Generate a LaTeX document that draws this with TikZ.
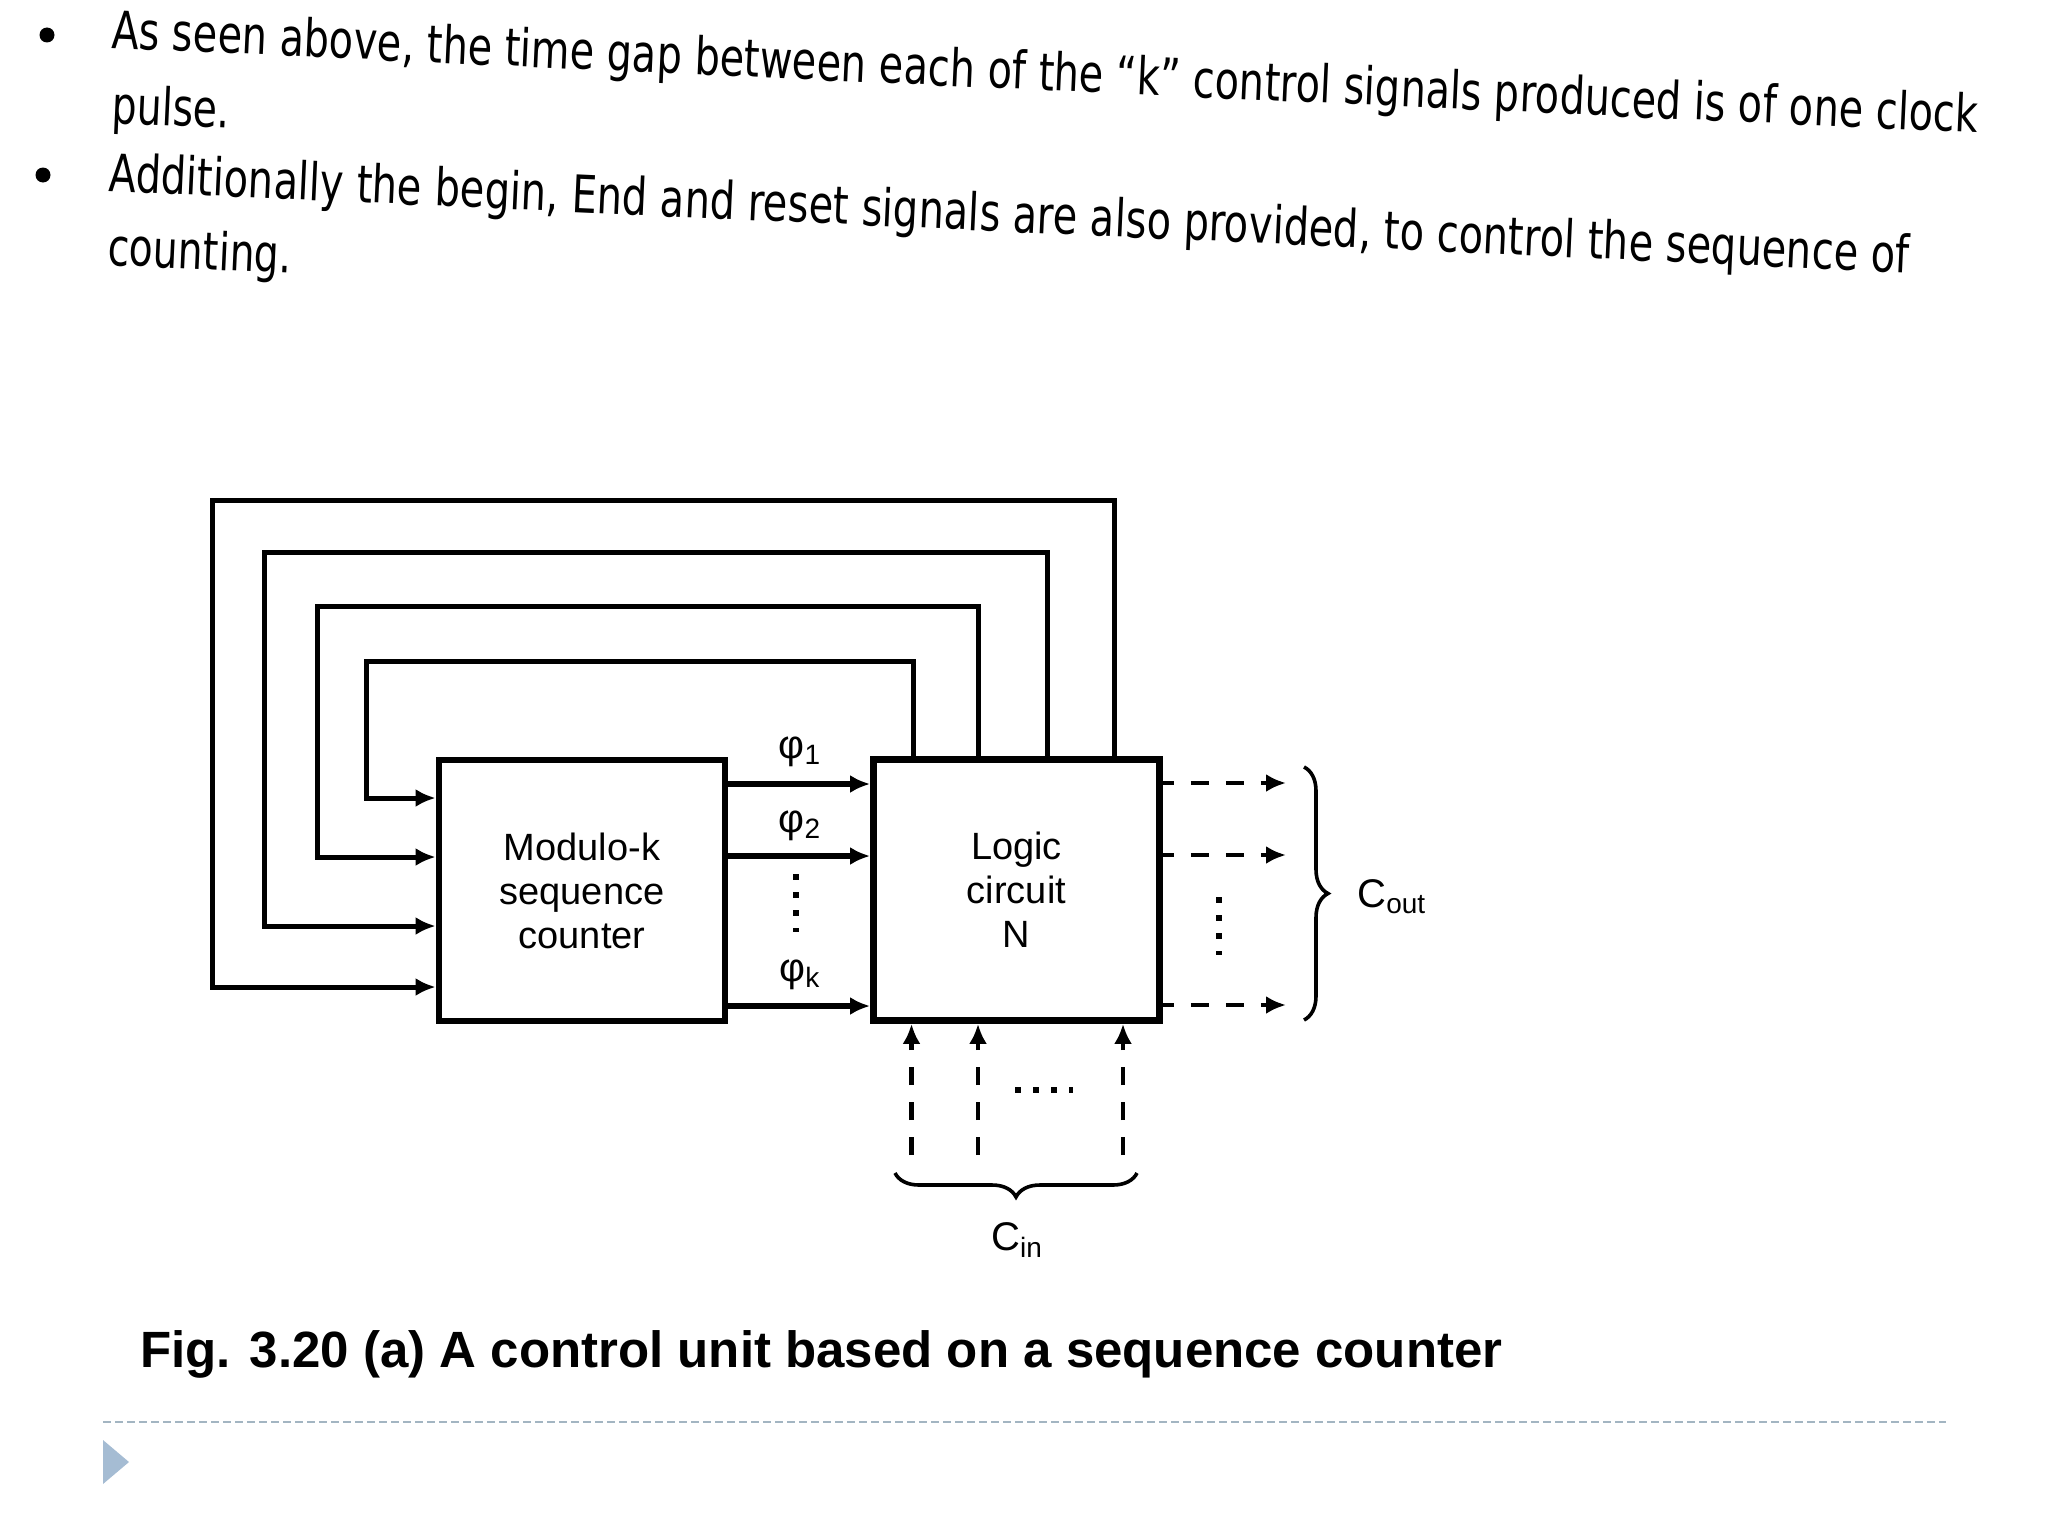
\documentclass[tikz,border=0pt]{standalone}
\usepackage{fontspec}
\usepackage{xcolor}
\usepackage{graphicx}
\usepackage{tikz}
\usetikzlibrary{arrows.meta,decorations.pathreplacing}
\setmainfont{Liberation Sans}
\newfontfamily\slidefont{DejaVu Sans}
\definecolor{slideblue}{HTML}{A5BCD3}
\definecolor{slidegrey}{HTML}{A3B5C2}

\begin{document}
\begin{tikzpicture}[x=.5pt,y=-.5pt]
	\tikzstyle{block} = [draw, line width=3.4pt, minimum width=143pt, minimum height=130.5pt, inner sep=0pt, align=center, font=\fontsize{19}{22}\selectfont]
	\tikzstyle{slideline} = [anchor=base west, rotate=-2.6, inner sep=0pt, font=\slidefont\fontsize{26}{30}\selectfont]
	\tikzstyle{signal} = [inner sep=0pt, font=\fontsize{20}{22}\selectfont]
	\tikzstyle{bullet} = [circle, fill, inner sep=0pt, minimum size=7.5pt]
	\tikzset{edge/.style = {line width=2.5pt, -{Latex[length=10pt,width=9pt]}}}
	\tikzset{wire/.style = {edge, line width=2.9pt}}
	\tikzset{dashedge/.style = {edge, line width=2.4pt, dash pattern=on 9pt off 8.5pt}}
	\tikzset{dots/.style = {line width=2.6pt, dash pattern=on 3pt off 6pt}}
	\tikzset{curly/.style = {line width=1.8pt, decorate, decoration={brace, amplitude=12pt}}}
	\useasboundingbox (0,0) rectangle (2048,1536);

	% text above the figure
	\node[bullet](bullet1) at (47,35) {};
	\node[bullet](bullet2) at (43,175) {};
	\node[slideline](line1) at (111,48) {\resizebox{934pt}{\height}{As seen above, the time gap between each of the “k” control signals produced is of one clock}};
	\node[slideline](line2) at (111,123) {\resizebox{59pt}{\height}{pulse.}};
	\node[slideline](line3) at (108,191) {\resizebox{901pt}{\height}{Additionally the begin, End and reset signals are also provided, to control the sequence of}};
	\node[slideline](line4) at (107,265) {\resizebox{92pt}{\height}{counting.}};

	% the two blocks
	\node[block](seqcounter) at (582,890.5) {Modulo-k\\sequence\\counter};
	\node[block](logic) at (1016.5,890) {Logic\\circuit\\N};

	% feedback loops
	\coordinate (loop1r) at (1114,500);
	\coordinate (loop1l) at (212,987);
	\coordinate (loop2r) at (1047,552);
	\coordinate (loop2l) at (264,926);
	\coordinate (loop3r) at (978,606);
	\coordinate (loop3l) at (317,857);
	\coordinate (loop4r) at (913,661);
	\coordinate (loop4l) at (366,798);
	\draw[edge](logic.north -| loop1r) -- (loop1r) -- (loop1l |- loop1r) -- (loop1l) -- (seqcounter.west |- loop1l);
	\draw[edge](logic.north -| loop2r) -- (loop2r) -- (loop2l |- loop2r) -- (loop2l) -- (seqcounter.west |- loop2l);
	\draw[edge](logic.north -| loop3r) -- (loop3r) -- (loop3l |- loop3r) -- (loop3l) -- (seqcounter.west |- loop3l);
	\draw[edge](logic.north -| loop4r) -- (loop4r) -- (loop4l |- loop4r) -- (loop4l) -- (seqcounter.west |- loop4l);

	% phase signals
	\node[signal](phi1) at (800,752) {φ\textsubscript{1}};
	\node[signal](phi2) at (800,826) {φ\textsubscript{2}};
	\node[signal](phik) at (800,975) {φ\textsubscript{k}};
	\coordinate (wire1) at (800,784);
	\coordinate (wire2) at (800,856);
	\coordinate (wirek) at (800,1006);
	\draw[wire](seqcounter.east |- wire1) to (logic.west |- wire1);
	\draw[wire](seqcounter.east |- wire2) to (logic.west |- wire2);
	\draw[wire](seqcounter.east |- wirek) to (logic.west |- wirek);
	\coordinate (phidots1) at (796,874);
	\coordinate (phidots2) at (796,932);
	\draw[dots](phidots1) to (phidots2);

	% outputs
	\coordinate (out1) at (1286,783);
	\coordinate (out2) at (1286,855);
	\coordinate (outk) at (1286,1005);
	\draw[dashedge, dash phase=3.5pt](logic.east |- out1) to (out1);
	\draw[dashedge, dash phase=3.5pt](logic.east |- out2) to (out2);
	\draw[dashedge, dash phase=3.5pt](logic.east |- outk) to (outk);
	\coordinate (outdots1) at (1219,897);
	\coordinate (outdots2) at (1219,955);
	\draw[dots](outdots1) to (outdots2);
	\coordinate (outbrace1) at (1304,767);
	\coordinate (outbrace2) at (1304,1020);
	\draw[curly](outbrace1) to (outbrace2);
	\node[signal, anchor=west](cout) at (1357,897) {C\textsubscript{out}};

	% inputs
	\coordinate (in1) at (911.5,1155);
	\coordinate (in2) at (978,1155);
	\coordinate (ink) at (1123,1155);
	\draw[dashedge](in1) to (logic.south -| in1);
	\draw[dashedge](in2) to (logic.south -| in2);
	\draw[dashedge](ink) to (logic.south -| ink);
	\coordinate (indots1) at (1015,1090);
	\coordinate (indots2) at (1073,1090);
	\draw[dots](indots1) to (indots2);
	\coordinate (inbrace1) at (1137,1173);
	\coordinate (inbrace2) at (895,1173);
	\draw[curly](inbrace1) to (inbrace2);
	\node[signal](cin) at (1017,1240) {C\textsubscript{in}};

	% caption and slide furniture
	\node[anchor=base west, inner sep=0pt, font=\bfseries\fontsize{25.5}{30}\selectfont](caption) at (140,1367) {\resizebox{681pt}{\height}{Fig. 3.20 (a) A control unit based on a sequence counter}};
	\coordinate (rule1) at (103,1422);
	\coordinate (rule2) at (1946,1422);
	\draw[slidegrey, line width=1pt, dash pattern=on 4pt off 2pt](rule1) to (rule2);
	\fill[slideblue] (103,1440) -- (129,1462) -- (103,1484) -- cycle;
\end{tikzpicture}
\end{document}
